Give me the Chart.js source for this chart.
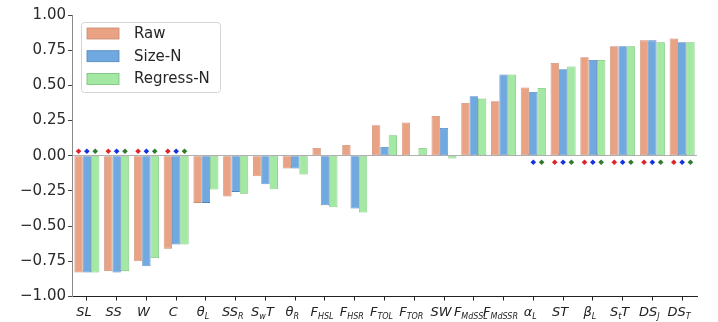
<!DOCTYPE html>
<html>
<head>
<meta charset="utf-8">
<script src="https://cdn.jsdelivr.net/npm/chart.js@4/dist/chart.umd.min.js"></script>
<style>
  html, body { margin: 0; padding: 0; background: #fff; }
  #wrap { width: 718px; height: 322px; }
</style>
</head>
<body>
<div id="wrap"><canvas id="c" width="718" height="322"></canvas></div>
<script>
// Trait names; "_{...}" marks a subscript
const categories = ["SL", "SS", "W", "C", "\u03b8_{L}", "SS_{R}", "S_{w}T", "\u03b8_{R}",
  "F_{HSL}", "F_{HSR}", "F_{TOL}", "F_{TOR}", "SW", "F_{MdSSL}", "F_{MdSSR}",
  "\u03b1_{L}", "ST", "\u03b2_{L}", "S_{t}T", "DS_{J}", "DS_{T}"];

// Correlation values per normalisation method
const rawValues     = [-0.83, -0.82, -0.75, -0.66, -0.335, -0.29, -0.146, -0.091, 0.055, 0.077, 0.217, 0.236, 0.283, 0.375, 0.387, 0.485, 0.659, 0.70, 0.778, 0.82, 0.833];
const sizeValues    = [-0.83, -0.83, -0.785, -0.631, -0.335, -0.257, -0.203, -0.091, -0.352, -0.375, 0.063, 0.0, 0.198, 0.423, 0.577, 0.453, 0.615, 0.681, 0.778, 0.82, 0.806];
const regressValues = [-0.83, -0.82, -0.726, -0.631, -0.24, -0.27, -0.238, -0.134, -0.366, -0.404, 0.146, 0.055, -0.02, 0.406, 0.577, 0.482, 0.634, 0.681, 0.778, 0.806, 0.806];

// Significance flags (1 = significant) per method
const rawSig     = [1,1,1,1,0,0,0,0,0,0,0,0,0,0,0,0,1,1,1,1,1];
const sizeSig    = [1,1,1,1,0,0,0,0,0,0,0,0,0,0,0,1,1,1,1,1,1];
const regressSig = [1,1,1,1,0,0,0,0,0,0,0,0,0,0,0,1,1,1,1,1,1];

const yTicks = [-1, -0.75, -0.5, -0.25, 0, 0.25, 0.5, 0.75, 1];
const seriesNames = ["Raw", "Size-N", "Regress-N"];

const MARK_ABOVE = 0.032;
const MARK_BELOW = -0.046;

const fills   = ["#e9a284", "#70a9e0", "#a3e8a3"];
const borders = ["#c98a70", "#4f84bb", "#72c072"];
const markColors = ["#e0222a", "#1530e0", "#2f7a2f"];

const seriesValues = [rawValues, sizeValues, regressValues];
const seriesSig = [rawSig, sizeSig, regressSig];

const datasets = seriesValues.map((vals, s) => ({
  label: seriesNames[s],
  data: vals,
  sig: seriesSig[s],
  markColor: markColors[s],
  backgroundColor: fills[s],
  borderColor: borders[s],
  borderWidth: 0.8,
  borderSkipped: false,
  categoryPercentage: 0.84,
  barPercentage: 1.0
}));

// Significance diamonds placed over each bar, on the side opposite the bar
const sigMarks = {
  id: 'sigMarks',
  afterDatasetsDraw(chart) {
    const ctx = chart.ctx;
    const ys = chart.scales.y;
    ctx.save();
    chart.data.datasets.forEach((d, s) => {
      const meta = chart.getDatasetMeta(s);
      ctx.fillStyle = d.markColor;
      d.data.forEach((v, i) => {
        if (!d.sig[i]) return;
        const x = meta.data[i].x;
        const y = ys.getPixelForValue(v < 0 ? MARK_ABOVE : MARK_BELOW);
        const r = 2.8;
        ctx.beginPath();
        ctx.moveTo(x, y - r);
        ctx.lineTo(x + r, y);
        ctx.lineTo(x, y + r);
        ctx.lineTo(x - r, y);
        ctx.closePath();
        ctx.fill();
      });
    });
    ctx.restore();
  }
};

// Category labels with subscripts, drawn under the x axis
const subLabels = {
  id: 'subLabels',
  afterDraw(chart) {
    const ctx = chart.ctx;
    const xs = chart.scales.x;
    const mainFont = 'italic 13px "DejaVu Sans"';
    const subFont = 'italic 8px "DejaVu Sans"';
    const baseY = xs.top + 19;
    ctx.save();
    ctx.fillStyle = '#222';
    ctx.textBaseline = 'alphabetic';
    ctx.textAlign = 'left';
    categories.forEach((lab, i) => {
      const parts = [];
      const re = /_\{([^}]*)\}/g;
      let last = 0, m;
      while ((m = re.exec(lab)) !== null) {
        if (m.index > last) parts.push({ t: lab.slice(last, m.index), sub: false });
        parts.push({ t: m[1], sub: true });
        last = re.lastIndex;
      }
      if (last < lab.length) parts.push({ t: lab.slice(last), sub: false });
      let w = 0;
      parts.forEach(p => { ctx.font = p.sub ? subFont : mainFont; p.w = ctx.measureText(p.t).width; w += p.w; });
      let x = xs.getPixelForValue(i) - w / 2 - 3;
      parts.forEach(p => {
        ctx.font = p.sub ? subFont : mainFont;
        ctx.fillText(p.t, x, p.sub ? baseY + 3 : baseY);
        x += p.w;
      });
    });
    ctx.restore();
  }
};

// Framed legend in the upper-left corner of the plot
const boxLegend = {
  id: 'boxLegend',
  afterDraw(chart) {
    const ctx = chart.ctx;
    const a = chart.chartArea;
    const x0 = a.left + 9, y0 = a.top + 7, w = 139, h = 70, r = 3;
    ctx.save();
    ctx.fillStyle = 'rgba(255,255,255,0.85)';
    ctx.strokeStyle = '#d4d4d4';
    ctx.lineWidth = 1;
    ctx.beginPath();
    ctx.roundRect(x0 + 0.5, y0 + 0.5, w, h, r);
    ctx.fill();
    ctx.stroke();
    ctx.font = '15px "DejaVu Sans"';
    ctx.textBaseline = 'middle';
    ctx.textAlign = 'left';
    chart.data.datasets.forEach((d, k) => {
      const cy = y0 + 11.5 + k * 22.7;
      ctx.fillStyle = d.backgroundColor;
      ctx.fillRect(x0 + 6, cy - 5.5, 32, 11);
      ctx.strokeStyle = d.borderColor;
      ctx.lineWidth = 0.8;
      ctx.strokeRect(x0 + 6, cy - 5.5, 32, 11);
      ctx.fillStyle = '#262626';
      ctx.fillText(d.label, x0 + 53, cy + 0.5);
    });
    ctx.restore();
  }
};

new Chart(document.getElementById('c'), {
  type: 'bar',
  data: { labels: categories, datasets },
  plugins: [sigMarks, subLabels, boxLegend],
  options: {
    responsive: false,
    animation: false,
    events: [],
    layout: { padding: { left: 0, right: 21, top: 15, bottom: 0 } },
    plugins: { legend: { display: false }, tooltip: { enabled: false } },
    scales: {
      x: {
        type: 'category',
        offset: true,
        grid: { display: true, drawOnChartArea: false, offset: false, tickLength: 4, tickColor: '#222', tickWidth: 1 },
        border: { display: true, color: '#222', width: 1 },
        ticks: { display: false },
        afterFit: s => { s.height = 25.5; }
      },
      y: {
        min: -1,
        max: 1,
        afterBuildTicks: s => { s.ticks = yTicks.map(v => ({ value: v })); },
        grid: {
          color: c => (c.tick && c.tick.value === 0) ? '#b0b0b0' : 'rgba(0,0,0,0)',
          lineWidth: 1,
          tickColor: '#444',
          tickLength: 4
        },
        border: { display: true, color: '#8a8a8a', width: 1 },
        ticks: {
          padding: 2,
          color: '#2a2a2a',
          font: { family: '"DejaVu Sans"', size: 15 },
          callback: v => (v < 0 ? '\u2212' : '') + Math.abs(v).toFixed(2)
        },
        afterFit: s => { s.width = 72; }
      }
    }
  }
});
</script>
</body>
</html>
